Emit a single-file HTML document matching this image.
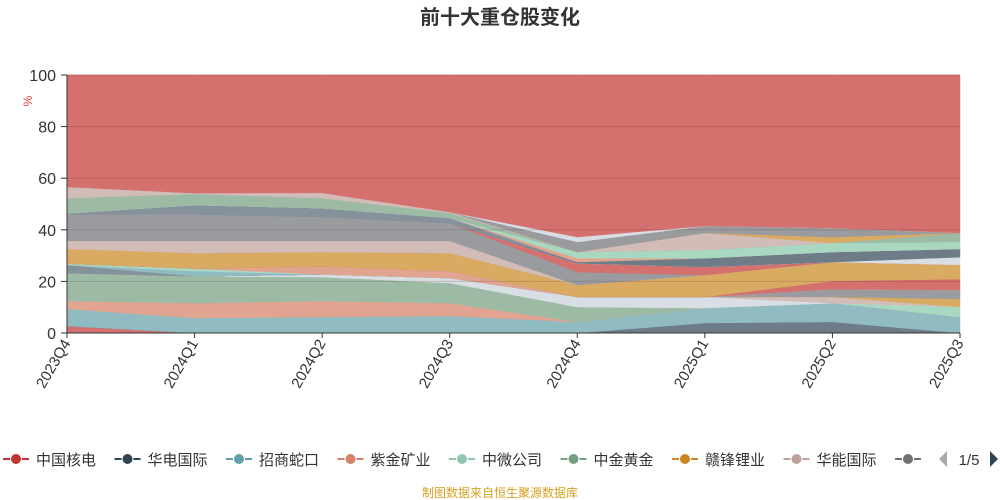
<!DOCTYPE html>
<html><head><meta charset="utf-8"><style>
body{margin:0;background:#fff;font-family:"Liberation Sans","Noto Sans CJK SC",sans-serif;}
#wrap{position:relative;width:1000px;height:500px;overflow:hidden;}
</style></head><body>
<div id="wrap">
<svg id="chart" width="1000" height="500" xmlns="http://www.w3.org/2000/svg">
<text x="500" y="24" text-anchor="middle" font-size="20" font-weight="bold" fill="#333" font-family="Liberation Sans, Noto Sans CJK SC, sans-serif">前十大重仓股变化</text>
<text x="0" y="0" transform="translate(32,101) rotate(-90)" text-anchor="middle" font-size="12" fill="#e0403c">%</text>
<g id="areas"></g><g id="grid"></g><g id="axes"></g><g id="legend"></g>
<text x="500" y="497" text-anchor="middle" font-size="12" fill="#d4a020" font-family="Liberation Sans, Noto Sans CJK SC, sans-serif">制图数据来自恒生聚源数据库</text>
</svg>
</div>
<script>
const categories=["2023Q4","2024Q1","2024Q2","2024Q3","2024Q4","2025Q1","2025Q2","2025Q3"];
const yTicks=[0,20,40,60,80,100];
const legendNames=["中国核电","华电国际","招商蛇口","紫金矿业","中微公司","中金黄金","赣锋锂业","华能国际","宝"];
const legendColors=["#c23531","#2f4554","#61a0a8","#d48265","#91c7ae","#749f83","#ca8622","#bda29a","#6e7074"];
const s01=[2.7,0,0,0,0,0,0,0];
const s02=[0,0,0,0,0,3.9,4.3,0];
const s03=[6.6,5.8,6.2,6.6,4.3,5.8,7.3,6.2];
const s04=[3.1,5.8,6.2,5.0,0,0,0,0];
const s05=[10.8,10.4,9.3,7.8,5.8,0,0,0];
const s06=[0,0,0,0,0,0,0,3.9];
const s07=[0,0,1.0,1.9,3.9,4.3,0,0];
const s08=[0,0,0,0,0,0,2.4,0];
const s09=[0,0,0,0,0,0,0,3.1];
const s10=[0,0,0,0,0,0,3.0,3.5];
const s11=[3.2,0,0,0,0,0,0,0];
const s12=[0,2.0,0,0,0,0,0,0];
const s13=[0.5,1.0,0,0,0,0,0,0];
const s14=[0,0,3.1,2.7,0,0,0,0];
const s15=[0,0,0,0,0,0,3.2,4.2];
const s16=[5.7,6.0,5.6,7.0,4.6,8.5,7.3,5.5];
const s17=[3.1,4.7,4.3,4.7,0,0,0,0];
const s18=[10.4,10.3,9.3,6.9,5.0,0,0,0];
const s19=[0,0,0,0,3.4,3.1,0,0];
const s20=[0,0,0,0,0,0,0,3.0];
const s21=[0,0,0,0,0.5,3.4,3.9,3.2];
const s22=[0.3,3.6,3.4,2.0,0,0,0,0];
const s23=[0,0,0,0,1.5,0,0,0];
const s24=[0,0,0,0,2.4,3.2,3.5,2.7];
const s25=[5.9,4.3,3.9,1.9,0,0,0,3.5];
const s26=[4.3,0.3,2.0,0.4,0,6.6,0,0];
const s27=[0,0,0,0,0,0,2.3,0];
const s28=[0,0,0,0,3.9,2.7,3.5,0];
const s29=[0,0,0,0,1.9,0,0,0];
const layers=[s01,s02,s03,s04,s05,s06,s07,s08,s09,s10,s11,s12,s13,s14,s15,s16,s17,s18,s19,s20,s21,s22,s23,s24,s25,s26,s27,s28,s29];
const colors=["#d4706d","#6e7c88","#8fbbc1","#e0a491","#9dbaa5","#a8d8c2","#d9dde4","#d1bcb7","#d9aa62","#9a9b9f","#85929c","#8fbbc1","#a8d8c2","#e0a491","#d4706d","#d9aa62","#d1bcb7","#9a9b9f","#d4706d","#d9dde4","#6e7c88","#85929c","#e0a491","#a8d8c2","#9dbaa5","#d1bcb7","#d9aa62","#9a9b9f","#d9dde4","#d4706d"];
const NS="http://www.w3.org/2000/svg";
const X0=67,X1=960,Y0=333,Y1=75;
const xs=i=>X0+(X1-X0)*i/(categories.length-1);
const ys=v=>Y0-(Y0-Y1)*v/100;
function mk(t,a,p){const e=document.createElementNS(NS,t);for(const k in a)e.setAttribute(k,a[k]);p.appendChild(e);return e;}
const areas=document.getElementById('areas');
let base=categories.map(()=>0);
const all=layers.slice();
all.push(categories.map((c,i)=>100-layers.reduce((s,l)=>s+l[i],0)));
all.forEach((l,k)=>{
  const top=base.map((b,i)=>b+l[i]);
  let d="M"+top.map((v,i)=>xs(i)+","+ys(v)).join("L");
  for(let i=categories.length-1;i>=0;i--)d+="L"+xs(i)+","+ys(base[i]);
  const p=mk('path',{d:d+"Z",fill:colors[k],stroke:colors[k],'stroke-width':0.5},areas);
  
  
  base=top;
});
const grid=document.getElementById('grid'),axes=document.getElementById('axes');
yTicks.forEach(v=>{
  if(v>0){const g=mk('line',{x1:X0,x2:X1,y1:ys(v),y2:ys(v),stroke:'rgba(80,40,40,0.2)','stroke-width':1},grid);
  }
  const t=mk('text',{x:56,y:ys(v)+6,'text-anchor':'end','font-size':16,fill:'#333'},axes);
  t.textContent=v;
  const tk=mk('line',{x1:61,x2:X0,y1:ys(v),y2:ys(v),stroke:'#333'},axes);
  
});
const ya=mk('line',{x1:X0,x2:X0,y1:Y1,y2:Y0,stroke:'#333'},axes);

const xa=mk('line',{x1:X0,x2:X1,y1:Y0,y2:Y0,stroke:'#333'},axes);

categories.forEach((c,i)=>{
  const tk=mk('line',{x1:xs(i),x2:xs(i),y1:Y0,y2:Y0+5,stroke:'#333'},axes);
  
  const t=mk('text',{x:0,y:0,transform:`translate(${xs(i)+4},${Y0+10}) rotate(-60)`,'text-anchor':'end','font-size':15,fill:'#333'},axes);
  t.textContent=c;
});
const lg=document.getElementById('legend');
legendNames.forEach((n,i)=>{
  const x=3+i*111.5;
  const g=mk('g',{},lg);
  
  mk('line',{x1:x,x2:x+26,y1:459,y2:459,stroke:legendColors[i],'stroke-width':2},g);
  mk('circle',{cx:x+13,cy:459,r:5.5,fill:legendColors[i],stroke:'#fff','stroke-width':1},g);
  const t=mk('text',{x:x+33,y:465,'font-size':15,fill:'#333','font-family':'Liberation Sans, Noto Sans CJK SC, sans-serif'},g);
  t.textContent=n;
});
const cover=mk('rect',{x:925,y:440,width:75,height:40,fill:'#fff'},lg);

const pl=mk('path',{d:'M947,451 L939,459 L947,467 Z',fill:'#aaa'},lg);

const pt=mk('text',{x:969,y:465,'text-anchor':'middle','font-size':15,fill:'#333'},lg);
pt.textContent='1/5';
const pr=mk('path',{d:'M990,451 L998,459 L990,467 Z',fill:'#2f4554'},lg);

</script>
</body></html>
